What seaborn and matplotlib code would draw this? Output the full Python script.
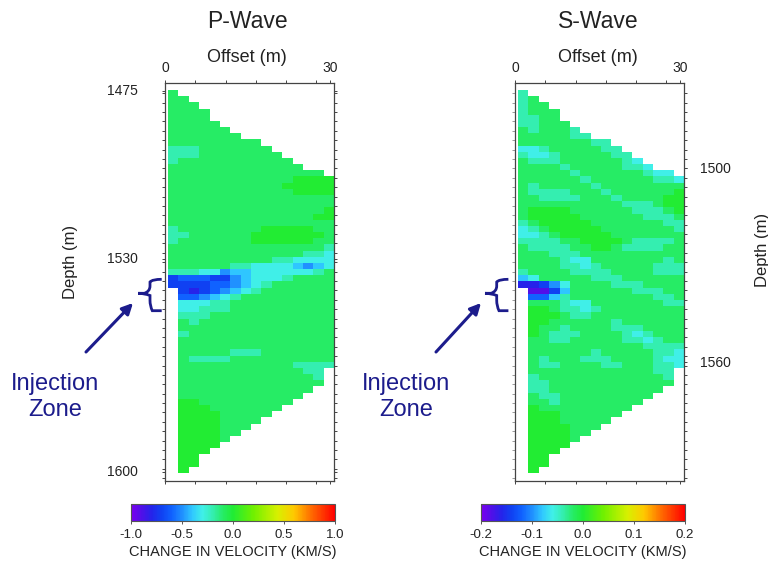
import numpy as np
import matplotlib
matplotlib.use("Agg")
import matplotlib.pyplot as plt
from matplotlib.colors import LinearSegmentedColormap
from matplotlib.path import Path
from matplotlib.patches import PathPatch, FancyArrowPatch
import seaborn as sns

sns.set_theme(style="white")
plt.rcParams["font.family"] = ["Liberation Sans", "DejaVu Sans"]

# ---------------------------------------------------------------------------
# Velocity-change sections, one character per cell ('.' = no coverage).
# Digit d means a velocity change of -d * step (step = scale / 10).
# Rows run down in depth, columns run out in offset from the source well.
# ---------------------------------------------------------------------------
p_rows = [
    "1...............",
    "11..............",
    "111.............",
    "1111............",
    "1111............",
    "11111...........",
    "111111..........",
    "1111111.........",
    "111111111.......",
    "2221111111......",
    "22211111111.....",
    "211111111111....",
    "1111111111111...",
    "111111111111111.",
    "1111111111110000",
    "1111111111100000",
    "1111111111110000",
    "1111111111111111",
    "1111111111111111",
    "1111111111111110",
    "1111111111111100",
    "1111111111111111",
    "2111111110000011",
    "2211111100000001",
    "2111111100000011",
    "1111111111111112",
    "1111111111111223",
    "1111111111223333",
    "1111112233334543",
    "2223354433333321",
    "7666775433321111",
    "7777665432111111",
    ".787654321111111",
    ".665432111111111",
    ".333221111111111",
    ".332221111111111",
    ".222111111111111",
    ".121111111111111",
    ".111111111111111",
    ".211111111111111",
    ".111111111111111",
    ".111111111111111",
    ".111112221111111",
    ".122221111111111",
    ".111111111112222",
    ".11111111111122.",
    ".11111111111112.",
    ".11111111111111.",
    ".1111111111111..",
    ".111111111111...",
    ".00111111111....",
    ".0001111111.....",
    ".000011111......",
    ".00001111.......",
    ".0000111........",
    ".000011.........",
    ".00001..........",
    ".0000...........",
    ".000............",
    ".00.............",
    ".00.............",
    ".0..............",
]

s_rows = [
    "2...............",
    "21..............",
    "211.............",
    "2111............",
    "2211............",
    "22111...........",
    "121112..........",
    "1111122.........",
    "111111122.......",
    "3321111122......",
    "23321111122.....",
    "122211111123....",
    "1111211111223...",
    "111112111111233.",
    "1111112111111223",
    "1211111211111111",
    "1222211121111110",
    "1122221112111100",
    "1111111111222100",
    "1000011111122210",
    "1000001111112221",
    "2100000111111122",
    "3210000011111112",
    "3321000001111111",
    "2222110000122221",
    "1222211001222211",
    "1112221111111111",
    "1111233111111121",
    "1111223211111222",
    "2111122221111222",
    "4311111222111111",
    "8875311112221111",
    ".997411111122211",
    ".664211111111221",
    ".111233111111122",
    ".001223211111111",
    ".000122111111111",
    ".001111112111111",
    ".011211112221111",
    ".012221111232111",
    ".112211111223211",
    ".111111111112222",
    ".111111211111223",
    ".121112221111233",
    ".122111122111223",
    ".11111111111122.",
    ".21111111111112.",
    ".22111111111111.",
    ".2211111111111..",
    ".122111111111...",
    ".11211111111....",
    ".0111111111.....",
    ".000111111......",
    ".00011111.......",
    ".0000111........",
    ".000011.........",
    ".00001..........",
    ".0000...........",
    ".000............",
    ".00.............",
    ".00.............",
    ".0..............",
]

p_scale = 1.0            # colour range, +/- km/s
s_scale = 0.2
p_cbar_ticks = [-1.0, -0.5, 0.0, 0.5, 1.0]
s_cbar_ticks = [-0.2, -0.1, 0.0, 0.1, 0.2]
p_depth_ticks = [1475, 1530, 1600]
s_depth_ticks = [1500, 1560]
offset_ticks = [0, 30]
cbar_label = "CHANGE IN VELOCITY (KM/S)"

# axis calibration of the cell grid
col_offset0, col_width = 0.55, 1.886          # m
p_depth0, p_row_height = 1474.7, 2.0246       # m
s_depth0, s_row_height = 1475.87, 1.9106      # m


def decode(rows, scale):
    step = scale / 10.0
    return np.array([[np.nan if ch == "." else -step * int(ch) for ch in r]
                     for r in rows])


p_grid = decode(p_rows, p_scale)
s_grid = decode(s_rows, s_scale)

cmap = LinearSegmentedColormap.from_list("velocity", [
    (0.00, "#7a00f0"), (0.05, "#5010e8"), (0.10, "#2424ea"),
    (0.15, "#1042f2"), (0.20, "#1062ff"), (0.25, "#2090ff"),
    (0.30, "#30c8ff"), (0.35, "#40f0e8"), (0.40, "#34eeb0"),
    (0.45, "#26ec66"), (0.50, "#20ec34"), (0.60, "#70f000"),
    (0.72, "#d8f000"), (0.80, "#ffc800"), (0.88, "#ff7000"),
    (1.00, "#ff0000")])

W, H = 768, 562
fig = plt.figure(figsize=(W / 100, H / 100), dpi=100)
fig.patch.set_facecolor("white")


def fx(px):
    return px / W


def fy(py):
    return 1 - py / H


navy = "#1c1c8c"
ink = "#222222"
spine_c = "#444444"


def offset_to_col(o):
    return (np.asarray(o, float) - col_offset0) / col_width


def panel(left_px, grid, scale, cticks, depth_ticks, depth0, row_h,
          cbar_left_px, labels_left):
    ax = fig.add_axes([fx(left_px), fy(481), 169 / W, 398 / H])
    cax = fig.add_axes([fx(cbar_left_px), fy(521), 204 / W, 17.5 / H])
    sns.heatmap(grid, ax=ax, cmap=cmap, vmin=-scale, vmax=scale,
                cbar_ax=cax,
                cbar_kws={"orientation": "horizontal", "ticks": cticks})
    ax.set_xlim(-0.29, 16.0)
    ax.set_ylim(63.3, -1.13)
    for s in ax.spines.values():
        s.set_visible(True)
        s.set_color(spine_c)
        s.set_linewidth(0.9)

    # offset axis on top
    ax.set_xticks(offset_to_col(offset_ticks))
    ax.set_xticklabels([str(t) for t in offset_ticks])
    ax.set_xticks(offset_to_col(np.arange(5.5, 29, 5.5)), minor=True)
    ax.tick_params(axis="x", which="both", top=True, bottom=True,
                   labeltop=True, labelbottom=False, direction="out",
                   colors=spine_c, labelcolor=ink, labelsize=10,
                   length=2.5, width=0.7, pad=3.5, labelrotation=0)

    # depth axis
    rows = (np.asarray(depth_ticks, float) - depth0) / row_h
    ax.set_yticks(rows)
    ax.set_yticklabels([str(t) for t in depth_ticks])
    ax.set_yticks(np.arange(0.53, 63.3, 1.52), minor=True)
    if labels_left:
        ax.tick_params(axis="y", which="both", left=True, right=True,
                       labelleft=True, labelright=False, direction="out",
                       colors=spine_c, labelcolor=ink, labelsize=10,
                       length=2.5, width=0.7, pad=17, labelrotation=0)
    else:
        ax.tick_params(axis="y", which="both", left=False, right=True,
                       labelleft=False, labelright=True, direction="out",
                       colors=spine_c, labelcolor=ink, labelsize=10,
                       length=2.5, width=0.7, pad=9, labelrotation=0)
        sec = ax.secondary_yaxis("left")
        sec.set_yticks(np.arange(0.53, 63.3, 1.52))
        sec.set_yticklabels([])
        sec.tick_params(axis="y", direction="out", colors="#9a9a9a",
                        length=2.5, width=0.7)
        sec.spines["left"].set_visible(False)
    ax.set_xlabel("")
    ax.set_ylabel("")

    # colour bar
    cbar = ax.collections[0].colorbar
    cbar.outline.set_edgecolor("#555555")
    cbar.outline.set_linewidth(0.8)
    cax.set_xticks(cticks)
    cax.set_xticklabels([f"{t:.1f}" for t in cticks])
    cax.tick_params(axis="x", bottom=True, direction="out", length=2.5,
                    width=0.7, colors="#555555", labelcolor=ink,
                    labelsize=9.5, pad=3)
    cax.set_xlabel(cbar_label, fontsize=10.5, color=ink, labelpad=3)
    return ax


ax_p = panel(165, p_grid, p_scale, p_cbar_ticks, p_depth_ticks,
             p_depth0, p_row_height, 131, True)
ax_s = panel(515, s_grid, s_scale, s_cbar_ticks, s_depth_ticks,
             s_depth0, s_row_height, 481, False)

# titles and axis names
for cx, name in [(247, "P-Wave"), (598, "S-Wave")]:
    fig.text(fx(cx), fy(22), name, ha="center", va="center",
             fontsize=16.5, color=ink)
    fig.text(fx(cx), fy(57), "Offset (m)", ha="center", va="center",
             fontsize=13, color=ink)
fig.text(fx(70), fy(262), "Depth (m)", rotation=90, ha="center",
         va="center", fontsize=12, color=ink)
fig.text(fx(762), fy(250), "Depth (m)", rotation=90, ha="center",
         va="center", fontsize=12, color=ink)


# injection-zone annotations
def brace(x0):
    pts = [(x0 + 23.4, 279.3), (x0 + 14, 279.3), (x0 + 11.7, 282),
           (x0 + 11.7, 286), (x0 + 11.7, 291.5), (x0 + 6, 293.3),
           (x0, 293.3), (x0 + 6, 293.3), (x0 + 11.7, 295.5),
           (x0 + 11.7, 300.5), (x0 + 11.7, 306), (x0 + 14, 310.7),
           (x0 + 23.4, 310.7)]
    codes = [Path.MOVETO, Path.CURVE3, Path.CURVE3, Path.LINETO,
             Path.CURVE3, Path.CURVE3, Path.LINETO, Path.CURVE3,
             Path.CURVE3, Path.LINETO, Path.CURVE3, Path.CURVE3,
             Path.LINETO]
    verts = [(fx(a), fy(b)) for a, b in pts]
    fig.add_artist(PathPatch(Path(verts, codes), transform=fig.transFigure,
                             facecolor="none", edgecolor=navy, lw=2.0))


for bx, tail, head, tx in [(138.3, (86, 352), (133, 303), 55),
                           (485.0, (436, 352), (481, 303), 406)]:
    brace(bx)
    fig.add_artist(FancyArrowPatch(
        (fx(tail[0]), fy(tail[1])), (fx(head[0]), fy(head[1])),
        transform=fig.transFigure, arrowstyle="-|>", mutation_scale=16,
        lw=2.2, color=navy, shrinkA=0, shrinkB=0))
    fig.text(fx(tx), fy(397), "Injection\nZone", ha="center", va="center",
             fontsize=17, color=navy, linespacing=1.25)

fig.savefig("out.png", dpi=100, facecolor="white")
